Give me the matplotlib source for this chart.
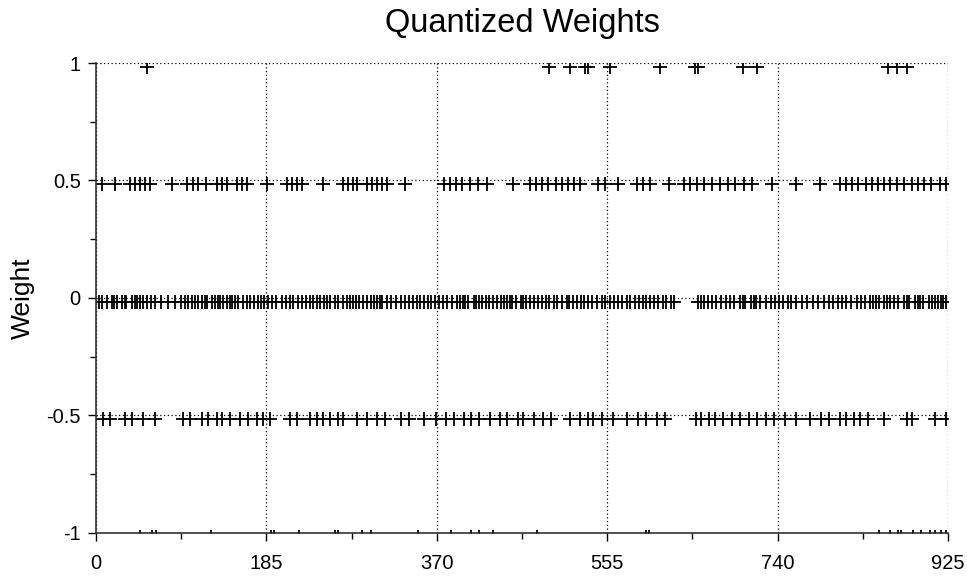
import matplotlib
matplotlib.use("Agg")
import matplotlib.pyplot as plt
import matplotlib.transforms as mtransforms
from matplotlib.ticker import MultipleLocator

plt.rcParams["font.family"] = ["Liberation Sans", "DejaVu Sans"]

# Weight index positions grouped by quantization level
idx_pos1 = [55, 492, 515, 531, 534, 558, 612, 650, 654, 702, 718, 860, 870, 880]

idx_pos_half = [7, 21, 37, 42, 48, 53, 59, 83, 99, 105, 111, 119, 131, 137, 142,
                153, 158, 164, 186, 207, 213, 218, 224, 246, 268, 274, 279, 283,
                294, 300, 305, 311, 316, 335, 378, 384, 391, 397, 406, 415, 425,
                453, 471, 478, 484, 491, 499, 506, 512, 519, 525, 545, 553, 567,
                587, 594, 601, 622, 638, 645, 652, 660, 669, 677, 686, 694, 704,
                712, 734, 760, 786, 808, 814, 821, 827, 836, 842, 849, 856, 862,
                870, 877, 886, 892, 899, 906, 916, 923]

idx_zero = [3, 7, 12, 17, 20, 23, 28, 31, 33, 39, 42, 45, 48, 51, 55, 60, 64, 70,
            78, 86, 92, 97, 100, 104, 107, 111, 115, 118, 121, 126, 129, 132, 135,
            138, 142, 145, 148, 151, 154, 160, 164, 167, 171, 176, 179, 182, 187,
            191, 195, 202, 206, 211, 214, 219, 224, 228, 232, 236, 240, 243, 248,
            251, 254, 259, 263, 268, 272, 276, 279, 282, 286, 290, 294, 299, 302,
            305, 308, 311, 316, 320, 326,
            331, 335, 340, 344, 349, 352, 356, 360, 364, 368, 372, 377, 381, 386,
            392, 395, 398, 401, 404, 410, 413, 416, 419, 423, 427, 431, 435, 440,
            443, 446, 449, 452, 456, 461, 464, 467, 471, 476, 480, 484, 488, 492,
            497, 501, 506, 511, 514, 518, 522, 526, 530, 534, 539, 544, 549, 553,
            558, 562, 567, 571, 576, 580, 585, 590, 594, 597, 601, 606, 610, 615,
            619, 624, 628,
            654, 657, 660, 664, 669, 673, 678, 684, 688, 693, 699, 702, 705, 711,
            714, 717, 721, 727, 733, 737, 742, 746, 751, 755, 760, 766, 772, 778,
            784, 790, 796, 800, 805, 810, 814, 820, 826, 830, 835, 840, 844, 847,
            850, 856, 859, 862, 866, 871, 877, 880, 883, 889, 892, 895, 898, 904,
            908, 911, 914, 917, 920, 923]

idx_neg_half = [8, 15, 31, 39, 51, 64, 94, 102, 115, 122, 131, 137, 145, 156, 165,
                175, 181, 189, 211, 218, 232, 240, 246, 254, 263, 268, 283, 294,
                305, 314, 331, 340, 356, 369, 380, 389, 399, 407, 416, 428, 439,
                446, 458, 464, 476, 485, 494, 515, 525, 534, 540, 549, 561, 576,
                588, 597, 609, 618, 651, 657, 666, 672, 681, 690, 699, 709, 718,
                727, 736, 748, 760, 775, 787, 796, 808, 814, 823, 829, 838, 856,
                880, 886, 911, 923]

idx_neg1 = [48, 61, 65, 125, 190, 193, 220, 259, 263, 289, 298, 350, 385, 407, 416,
            431, 479, 597, 600, 850, 862, 871, 874, 887, 896, 905, 911, 917, 923]

levels = [1.0, 0.5, 0.0, -0.5, -1.0]
groups = [idx_pos1, idx_pos_half, idx_zero, idx_neg_half, idx_neg1]

x_ticks = [0, 185, 370, 555, 740, 925]
y_ticks = [-1, -0.5, 0, 0.5, 1]
y_tick_labels = ["-1", "-0.5", "0", "0.5", "1"]

fig = plt.figure(figsize=(9.67, 5.78), dpi=100)
ax = fig.add_axes([0.0993, 0.0779, 0.8811, 0.8131])

# markers sit a few pixels low, as in the original rendering
marker_tf = mtransforms.offset_copy(ax.transData, fig=fig, x=0, y=-4, units="dots")

for lvl, xs in zip(levels, groups):
    ax.plot(xs, [lvl] * len(xs), linestyle="none", marker="+", markersize=10,
            markeredgewidth=1.3, color="black", transform=marker_tf, clip_on=True)

ax.set_xlim(0, 925)
ax.set_ylim(-1, 1)
ax.set_xticks(x_ticks)
ax.set_xticklabels([str(t) for t in x_ticks])
ax.set_yticks(y_ticks)
ax.set_yticklabels(y_tick_labels)
ax.xaxis.set_minor_locator(MultipleLocator(92.5))
ax.yaxis.set_minor_locator(MultipleLocator(0.25))

ax.grid(True, which="major", linestyle=(0, (1, 2)), linewidth=0.9, color="black")
for side in ("top", "right"):
    ax.spines[side].set_visible(False)
for side in ("left", "bottom"):
    ax.spines[side].set_color("#333333")
    ax.spines[side].set_linewidth(1.2)

ax.tick_params(axis="both", which="major", direction="out", length=6, width=1,
               labelsize=14.5, colors="black")
ax.tick_params(axis="both", which="minor", direction="out", length=4, width=1)
ax.tick_params(axis="x", which="major", pad=9)
ax.tick_params(axis="y", which="major", pad=5)

ax.set_title("Quantized Weights", fontsize=23.5, pad=22)
ax.set_ylabel("Weight", fontsize=19, labelpad=8)

fig.savefig("out.png", dpi=100)
